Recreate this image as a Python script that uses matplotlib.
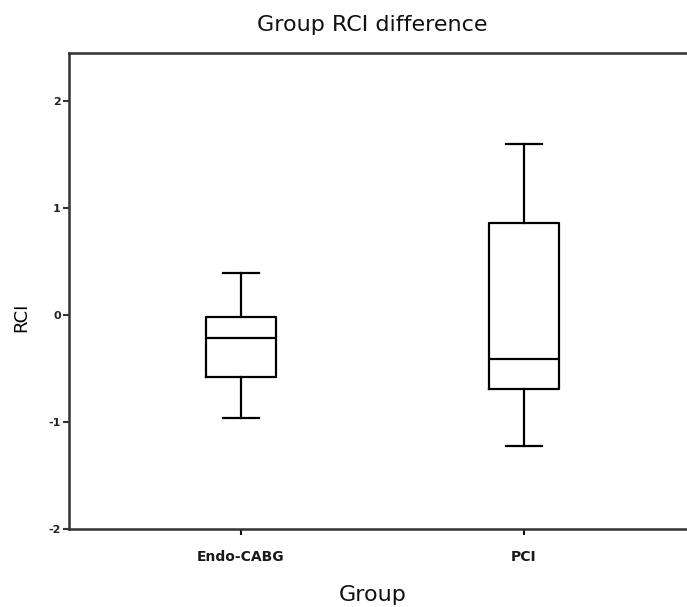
import matplotlib.pyplot as plt

plt.rcParams['font.family'] = ['DejaVu Sans']

# box summary values
groups = ['Endo-CABG', 'PCI']
whisker_low = [-0.96, -1.22]
q1 = [-0.58, -0.69]
median = [-0.21, -0.41]
q3 = [-0.02, 0.86]
whisker_high = [0.39, 1.60]

stats = []
for i, g in enumerate(groups):
    stats.append({'label': g, 'whislo': whisker_low[i], 'q1': q1[i], 'med': median[i],
                  'q3': q3[i], 'whishi': whisker_high[i], 'fliers': []})

fig = plt.figure(figsize=(6.87, 6.07), dpi=100)
ax = fig.add_axes([69/687, 1 - 529.3/607, 1 - 69/687, (529.3 - 53.3)/607])

lw = 1.6
ax.bxp(stats, positions=[1, 2], widths=0.25, showfliers=False, capwidths=0.125,
       boxprops=dict(color='black', linewidth=lw),
       medianprops=dict(color='black', linewidth=lw),
       whiskerprops=dict(color='black', linewidth=lw),
       capprops=dict(color='black', linewidth=lw))

ax.set_xlim(1 - 172/283, 2 + 163/283)
ax.set_ylim(-2, 2.445)
ax.set_yticks([-2, -1, 0, 1, 2])
ax.set_yticklabels(['-2', '-1', '0', '1', '2'], fontsize=8, fontweight='bold', color='#222222')
ax.set_xticks([1, 2])
ax.set_xticklabels(groups, fontsize=10, fontweight='bold', color='#1a1a1a')
ax.tick_params(axis='y', length=4, width=1.5, pad=2, color='#333333')
ax.tick_params(axis='x', length=4, width=1.5, pad=11, color='#111111')

for s in ['left', 'top', 'bottom']:
    ax.spines[s].set_linewidth(1.8)
    ax.spines[s].set_color('#333333')
ax.spines['right'].set_visible(False)

fig.text(21/687, 1 - 317/607, 'RCI', ha='center', va='center', rotation=90, fontsize=13)
fig.text(372/687, 1 - 25/607, 'Group RCI difference', ha='center', va='center', fontsize=16,
         color='#111111')
fig.text(373/687, 1 - 595/607, 'Group', ha='center', va='center', fontsize=16, color='#111111')

plt.savefig('out.png', dpi=100)
